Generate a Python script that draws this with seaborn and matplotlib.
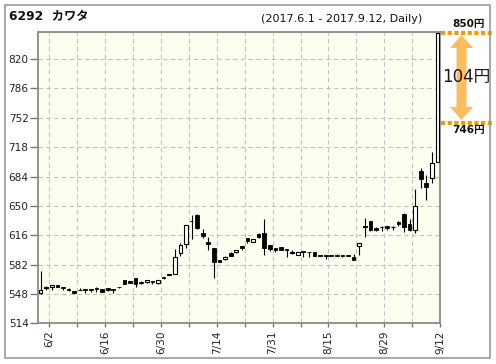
import matplotlib
matplotlib.use("Agg")
import matplotlib.pyplot as plt
import seaborn as sns
import numpy as np
from matplotlib.patches import Rectangle, FancyArrow
from matplotlib.transforms import IdentityTransform

# ---- data ----
opens = [549, 555, 556.5, 558, 556, 553.5, 551.5, 552, 554, 553.5,
         553.5, 554, 554.5, 553.5, 555.5, 564, 563, 567, 562, 561.5,
         563, 560.5, 568, 570.5, 571.5, 595, 606, 632, 639.5, 618,
         608.5, 601, 587, 588, 595, 596, 603.5, 612.5, 608.5, 617,
         619, 604.5, 601.5, 602, 599, 595.5, 593, 597, 596.5, 596,
         592.5, 592.5, 592.5, 593.5, 593, 592.5, 591, 604, 626, 632.5,
         624, 625, 626.5, 625, 631, 640.5, 629, 621.5, 690.5, 676,
         682, 701]
highs = [574, 557, 558, 558.5, 556, 554.5, 551.5, 555, 554, 553.5,
         556, 554, 554.5, 553.5, 555.5, 564, 563.5, 567, 562.5, 564,
         563, 564, 568, 571.5, 600, 607, 628, 639, 641, 623,
         613.5, 601, 587.5, 592, 596, 599, 604, 612.5, 612, 619,
         634.5, 604.5, 601.5, 602, 599, 598.5, 597, 597, 596.5, 596,
         592.5, 592.5, 592.5, 594.5, 593, 592.5, 594, 607, 636.5, 632.5,
         625, 627, 626.5, 627, 632, 642, 634.5, 670, 693.5, 685.5,
         712.5, 850]
lows = [548, 553, 552.5, 556, 552.5, 551, 547.5, 552, 549, 550.5,
        550.5, 550, 551, 549.5, 555, 559.5, 561, 555.5, 560, 561,
        560, 560, 565, 570.5, 571, 592, 601, 612, 623, 612.5,
        599, 567, 584.5, 587, 591.5, 595.5, 599, 606.5, 608, 612.5,
        593, 597.5, 596.5, 599, 591, 594, 593, 591, 591, 592,
        592, 588.5, 592, 591.5, 591, 591.5, 587, 593, 613.5, 621,
        621, 621, 622, 622, 627, 620, 621, 618, 671, 656.5,
        676, 701]
closes = [552, 555.5, 558, 556.5, 555, 552, 549.5, 552.5, 553, 553,
          553.5, 550, 552.5, 553, 555.5, 559.5, 561, 559.5, 560.5, 564,
          561.5, 564, 566, 571, 590.5, 604.5, 628, 633, 624, 615.5,
          606, 584.5, 584.5, 591, 592.5, 599, 601, 609.5, 611.5, 614.5,
          601, 599.5, 599, 599, 598.5, 596, 597, 596.5, 596, 592.5,
          592, 592, 592, 592, 591.5, 592, 587.5, 606.5, 627, 621.5,
          621.5, 625.5, 624.5, 625.5, 629, 626, 621.5, 650, 681, 672,
          700, 850]
tick_labels = ["6/2", "6/16", "6/30", "7/14", "7/31", "8/15", "8/29", "9/12"]
tick_days = [1, 11, 21, 31, 41, 51, 61, 71]
grid_days = [6, 16, 26, 36, 46, 56, 66]
y_ticks = [514, 548, 582, 616, 650, 684, 718, 752, 786, 820]
title_left = "6292  カワタ"
title_right = "(2017.6.1 - 2017.9.12, Daily)"
mark_high, mark_low = 850, 746

# ---- style ----
sns.set_style("white")
plt.rcParams['font.family'] = ['DejaVu Sans', 'Noto Sans CJK JP']

W, H = 496, 364
fig = plt.figure(figsize=(W / 100, H / 100), dpi=100)
ax = fig.add_axes([38.3 / W, 1 - 323.3 / H, (440.3 - 38.3) / W, (323.3 - 32.3) / H])
ax.set_facecolor("#fefef0")

x = np.arange(len(opens))
o = np.array(opens); c = np.array(closes)
hi = np.array(highs); lo = np.array(lows)

# wicks
ax.vlines(x, lo, hi, color="black", linewidth=0.8, zorder=3)
# bodies
bottom = np.minimum(o, c)
height = np.maximum(np.abs(c - o), 1.0)
up = c > o
ax.bar(x[~up], height[~up], bottom=bottom[~up], width=0.66,
       color="black", edgecolor="black", linewidth=0.6, zorder=4)
ax.bar(x[up], height[up], bottom=bottom[up], width=0.66,
       color="white", edgecolor="black", linewidth=0.8, zorder=4)

ax.set_xlim(-0.41, 71.5)
ax.set_ylim(514, 851)

# ticks
ax.set_yticks(y_ticks)
ax.set_yticklabels([str(v) for v in y_ticks], fontsize=7.6, color="#222")
ax.set_xticks([d + 0.5 for d in tick_days])
ax.set_xticklabels(tick_labels, rotation=90, fontsize=7.6, color="#222")
ax.set_xticks([d + 0.5 for d in grid_days], minor=True)
ax.tick_params(axis="y", which="major", length=5.5, width=1, color="#777", pad=1.5, left=True)
ax.tick_params(axis="x", which="both", length=3, width=1, color="#777", pad=2, bottom=True)

# grid
for yv in y_ticks[1:]:
    ax.axhline(yv, color="#c2c2c2", linewidth=0.8, linestyle=(0, (4, 3)), zorder=1)
for d in tick_days[:-1] + grid_days:
    ax.axvline(d + 0.5, color="#c2c2c2", linewidth=0.8, linestyle=(0, (4, 3)), zorder=1)

for s in ax.spines.values():
    s.set_color("#8a8a8a")
    s.set_linewidth(1.3)

# outer frame
fig.patches.append(Rectangle((5 / W, 1 - 358 / H), 485 / W, 353 / H,
                             transform=fig.transFigure, fill=False,
                             edgecolor="#999999", linewidth=1.2))

# titles
fig.text(9 / W, 1 - 17 / H, title_left, fontsize=8.8, fontweight="bold",
         color="#111", ha="left", va="center")
fig.text(422 / W, 1 - 18.5 / H, title_right, fontsize=8.0,
         color="#111", ha="right", va="center")

# annotation: dotted orange lines at high / low marks
orange = "#f39c00"
for v in (mark_high, mark_low):
    ax.plot([71.55, 80.7], [v, v], color=orange, linewidth=3.0,
            linestyle=(0, (1.0, 0.6)), dash_capstyle="butt",
            clip_on=False, zorder=5)

# double arrow (pixel coordinates)
def px(xp, yp):
    return xp, H - yp

ymid = 77
ax_x = 461.5
for y_end in (35, 120):
    x0, y0 = px(ax_x, ymid)
    _, y1 = px(ax_x, y_end)
    fig.patches.append(FancyArrow(x0, y0, 0, y1 - y0, width=10, head_width=23,
                                  head_length=13, length_includes_head=True,
                                  transform=IdentityTransform(),
                                  facecolor="#fbbd5e", edgecolor="none"))

fig.text(466 / W, 1 - 77 / H, f"{mark_high - mark_low}円", fontsize=12,
         color="#1a1a1a", ha="center", va="center")
fig.text(469 / W, 1 - 24.5 / H, f"{mark_high}円", fontsize=7.6, fontweight="bold",
         color="#111", ha="center", va="center")
fig.text(469 / W, 1 - 130 / H, f"{mark_low}円", fontsize=7.6, fontweight="bold",
         color="#111", ha="center", va="center")

fig.savefig("out.png", dpi=100)
